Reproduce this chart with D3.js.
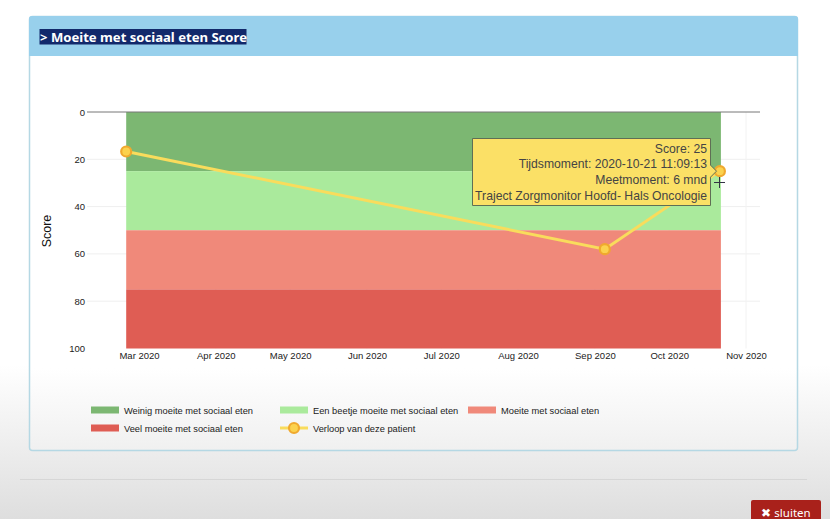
<!DOCTYPE html>
<html lang="nl">
<head>
  <meta charset="UTF-8">
  <title>Moeite met sociaal eten Score</title>
  <script src="https://d3js.org/d3.v7.min.js"></script>
  <style>
    body { margin: 0; overflow: hidden; background: #fff; }
    svg { display: block; font-family: "Liberation Sans", Arial, sans-serif; }
  </style>
</head>
<body>
  <svg width="830" height="519"></svg>

  <script>
    const bandNames = ['Weinig moeite met sociaal eten', 'Een beetje moeite met sociaal eten', 'Moeite met sociaal eten', 'Veel moeite met sociaal eten'];
    const bandFrom = [0, 25, 50, 75];
    const bandTo = [25, 50, 75, 100];
    const bandColors = ['#7cb772', '#aaea9c', '#f0897a', '#df5d54'];

    const pointDates = ['2020-02-24T20:00:00', '2020-09-05T00:00:00', '2020-10-21T11:09:13'];
    const pointScores = [16.7, 58, 25];

    const yTicks = [0, 20, 40, 60, 80, 100];
    const xTicks = ['2020-03-01', '2020-04-01', '2020-05-01', '2020-06-01', '2020-07-01', '2020-08-01', '2020-09-01', '2020-10-01', '2020-11-01'];
    const xTickLabels = ['Mar 2020', 'Apr 2020', 'May 2020', 'Jun 2020', 'Jul 2020', 'Aug 2020', 'Sep 2020', 'Oct 2020', 'Nov 2020'];
    const tooltipLines = ['Score: 25', 'Tijdsmoment: 2020-10-21 11:09:13', 'Meetmoment: 6 mnd', 'Traject Zorgmonitor Hoofd- Hals Oncologie'];

    const svg = d3.select('svg');
    const defs = svg.append('defs');

    // grijze overloop onderaan de pagina
    const fade = defs.append('linearGradient').attr('id', 'fade').attr('x2', 0).attr('y2', 1);
    fade.append('stop').attr('offset', 0).attr('stop-color', '#fff');
    fade.append('stop').attr('offset', 1).attr('stop-color', '#dedede');
    const panelFade = defs.append('linearGradient').attr('id', 'panelFade').attr('x2', 0).attr('y2', 1);
    panelFade.append('stop').attr('offset', 0.81).attr('stop-color', '#fff');
    panelFade.append('stop').attr('offset', 1).attr('stop-color', '#f0f0f0');

    svg.append('rect').attr('y', 365).attr('width', 830).attr('height', 154).attr('fill', 'url(#fade)');

    // paneel
    svg.append('rect').attr('x', 29.5).attr('y', 16.5).attr('width', 768).attr('height', 434).attr('rx', 3)
      .attr('fill', 'url(#panelFade)').attr('stroke', '#b5d8e4').attr('stroke-width', 1.5);

    svg.append('path').attr('d', 'M29 56V19a3 3 0 0 1 3-3H795a3 3 0 0 1 3 3V56Z').attr('fill', '#98d0ec');
    svg.append('rect').attr('x', 39.5).attr('y', 29).attr('width', 207).attr('height', 15.5).attr('fill', '#12296b');
    svg.append('text').attr('x', 40).attr('y', 41.5).attr('fill', '#fff')
      .style('font-family', '"Noto Sans", sans-serif').style('font-weight', 700).style('font-size', '13.1px')
      .text('> Moeite met sociaal eten Score');

    // onderkant pagina
    svg.append('line').attr('x1', 20).attr('x2', 807).attr('y1', 479.5).attr('y2', 479.5).attr('stroke', '#d6d6d6');
    svg.append('rect').attr('x', 751).attr('y', 500).attr('width', 70).attr('height', 24).attr('rx', 2).attr('fill', '#a9211b');
    svg.append('text').attr('x', 786).attr('y', 517).attr('text-anchor', 'middle').attr('fill', '#fff')
      .style('font-family', '"Noto Sans", sans-serif').style('font-size', '11.5px').text('✖ sluiten');

    const x = d3.scaleTime().domain([new Date(2020, 2, 1), new Date(2020, 10, 1)]).range([139, 746]);
    const y = d3.scaleLinear().domain([0, 100]).range([112, 348.5]);

    const points = pointDates.map((d, i) => ({ date: new Date(d), score: pointScores[i] }));

    // rasterlijnen
    svg.append('g').selectAll('line').data(yTicks.slice(1, -1)).join('line')
      .attr('x1', 87).attr('x2', 760).attr('y1', d => y(d)).attr('y2', d => y(d))
      .attr('stroke', '#efefef');
    svg.append('g').selectAll('line').data(xTicks).join('line')
      .attr('x1', d => x(new Date(d + 'T00:00:00'))).attr('x2', d => x(new Date(d + 'T00:00:00')))
      .attr('y1', y(0)).attr('y2', y(100)).attr('stroke', '#f2f2f2');

    // banden
    svg.append('g').selectAll('rect').data(bandNames).join('rect')
      .attr('x', x(points[0].date))
      .attr('width', x(points[2].date) - x(points[0].date) + 1)
      .attr('y', (d, i) => y(bandFrom[i]))
      .attr('height', (d, i) => y(bandTo[i]) - y(bandFrom[i]))
      .attr('fill', (d, i) => bandColors[i]);

    svg.append('line').attr('x1', 87).attr('x2', 760).attr('y1', y(0)).attr('y2', y(0)).attr('stroke', '#777').attr('stroke-width', 1);

    // assen
    const axisY = svg.append('g').attr('transform', 'translate(85,0)')
      .call(d3.axisLeft(y).tickValues(yTicks).tickSize(0).tickPadding(0));
    const axisX = svg.append('g').attr('transform', 'translate(0,349)')
      .call(d3.axisBottom(x).tickValues(xTicks.map(d => new Date(d + 'T00:00:00')))
        .tickSize(0).tickPadding(3).tickFormat((d, i) => xTickLabels[i]));
    [axisY, axisX].forEach(a => {
      a.select('.domain').remove();
      a.selectAll('text').attr('fill', '#222').style('font-family', '"Liberation Sans", Arial, sans-serif').style('font-size', '9.5px');
    });

    svg.append('text').attr('transform', 'translate(51,231) rotate(-90)').attr('text-anchor', 'middle')
      .attr('fill', '#111').style('font-size', '12.5px').text('Score');

    // verloop
    const line = d3.line().x(d => x(d.date)).y(d => y(d.score));
    svg.append('path').datum(points).attr('d', line).attr('fill', 'none').attr('stroke', '#f9dc5c').attr('stroke-width', 3);
    svg.append('g').selectAll('circle').data(points).join('circle')
      .attr('cx', d => x(d.date)).attr('cy', d => y(d.score)).attr('r', 5)
      .attr('fill', '#fbd24e').attr('stroke', '#f0a92e').attr('stroke-width', 2.2);

    // tooltip
    const last = points[points.length - 1];
    const tipX = 710.5;
    const tipY = y(last.score);
    svg.append('path')
      .attr('d', `M472.5 138.5H${tipX}V${tipY - 6}L${tipX + 6} ${tipY}L${tipX} ${tipY + 6}V205.5H472.5Z`)
      .attr('fill', '#fbe066').attr('stroke', '#5f6f55').attr('stroke-width', 1);
    svg.append('g').selectAll('text').data(tooltipLines).join('text')
      .attr('x', 707).attr('y', (d, i) => 152.5 + i * 15.9).attr('text-anchor', 'end')
      .attr('fill', '#444').style('font-size', '12.2px').text(d => d);

    // cursor
    svg.append('path').attr('d', 'M719.5 177V188M714 182.5H725').attr('stroke', '#334').attr('stroke-width', 1);

    // legenda
    const legendX = [91, 280, 468, 91];
    const legendY = [410, 410, 410, 428];
    const legend = svg.append('g').style('font-size', '9.3px').attr('fill', '#222');
    bandNames.forEach((name, i) => {
      legend.append('rect').attr('x', legendX[i]).attr('y', legendY[i] - 3.5).attr('width', 28).attr('height', 7).attr('fill', bandColors[i]);
      legend.append('text').attr('x', legendX[i] + 33).attr('y', legendY[i] + 3.5).text(name);
    });
    legend.append('line').attr('x1', 280).attr('x2', 308).attr('y1', 428).attr('y2', 428).attr('stroke', '#f9dc5c').attr('stroke-width', 3);
    legend.append('circle').attr('cx', 294).attr('cy', 428).attr('r', 5).attr('fill', '#fbd24e').attr('stroke', '#f0a92e').attr('stroke-width', 2.2);
    legend.append('text').attr('x', 313).attr('y', 431.5).text('Verloop van deze patient');
  </script>
</body>
</html>
